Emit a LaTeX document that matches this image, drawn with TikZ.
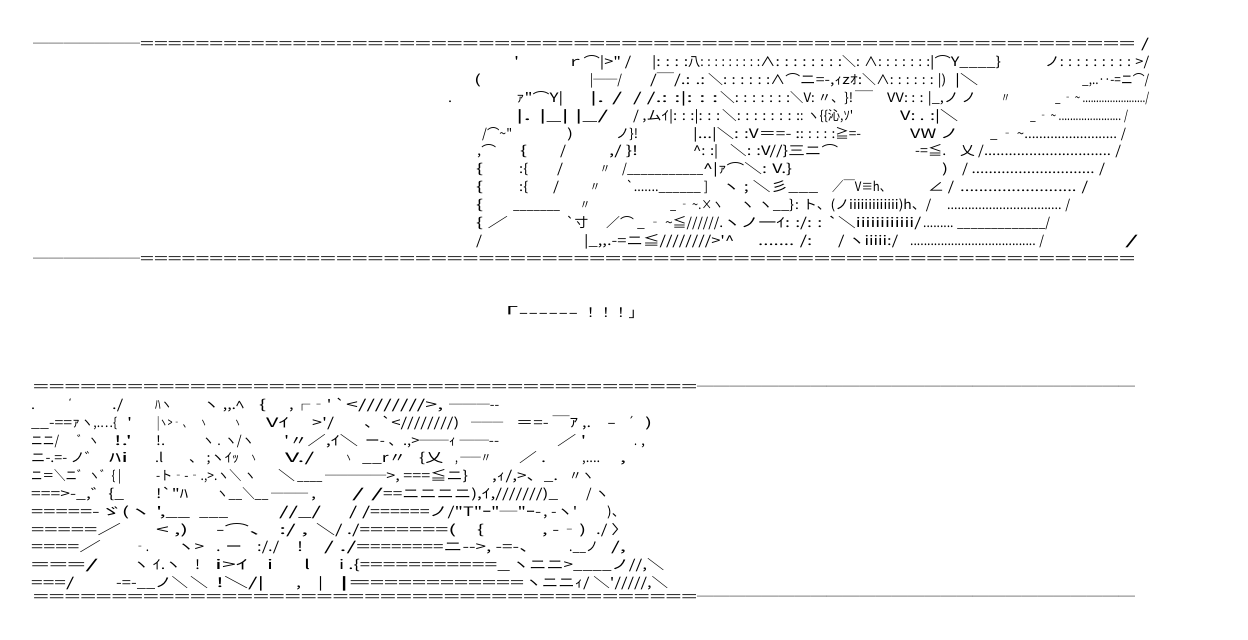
\documentclass[tikz,border=0pt]{standalone}
\usepackage{fontspec}
\usepackage{graphicx}
\usepackage{tikz}
\newfontfamily\aafont{Noto Sans CJK JP}
\tikzstyle{aa} = [anchor=base west, inner sep=0pt, yshift=-4.5pt, font=\aafont\fontsize{13}{15}\selectfont]
% one piece of a text row, stretched from x0 to x1
\newcommand{\aaseg}[5]{\node[aa] (#1) at (#2,#4) {\resizebox{\dimexpr #3pt-#2pt\relax}{\height}{\strut #5}};}

\begin{document}
\begin{tikzpicture}[x=1pt, y=-1pt]
\fill[white] (0,0) rectangle (1248,640);

% Top frame
\aaseg{tfa}{33}{140}{44}{───────}
\aaseg{tfb}{140}{320}{44}{=============}
\aaseg{tfc}{320}{605}{44}{==================}
\aaseg{tfd}{605}{1135}{44}{=================================}
\aaseg{tfe}{1141}{1149}{44}{/}

% Top picture rows
\aaseg{ta1}{514}{519}{62}{'}
\aaseg{ta2}{567}{631}{62}{ｒ⌒|>" /}
\aaseg{ta3}{652}{688}{62}{|: : : :}
\aaseg{ta4}{688}{760}{62}{八: : : : : : : : :}
\aaseg{ta5}{760}{842}{62}{∧: : : : : : : :}
\aaseg{ta6}{842}{930}{62}{＼: ∧: : : : : : :}
\aaseg{ta7}{930}{1001}{62}{|⌒Y\_\_\_\_\}}
\aaseg{ta8}{1045}{1149}{62}{ノ: : : : : : : : : >/}

\aaseg{tb1}{474}{481}{80}{(}
\aaseg{tb2}{590}{622}{80}{|──/}
\aaseg{tb3}{650}{705}{80}{/￣/.: .:}
\aaseg{tb4}{708}{800}{80}{＼: : : : : :∧⌒}
\aaseg{tb5}{800}{862}{80}{ニ=-,ｨzｵ:}
\aaseg{tb6}{862}{946}{80}{＼∧: : : : : : |)}
\aaseg{tb7}{955}{978}{80}{|＼}
\aaseg{tb8}{1082}{1149}{80}{\_,..‥-=ニ⌒/}

\aaseg{tc1}{448}{452}{98}{.}
\aaseg{tc2}{516}{563}{98}{ｧ"⌒Y|}
\aaseg{tc3}{590}{622}{98}{|.   /}
\aaseg{tc4}{633}{718}{98}{/  /.: :|: : :}
\aaseg{tc5}{720}{790}{98}{＼: : : : : : :}
\aaseg{tc6}{790}{853}{98}{＼V: 〃、\}!}
\aaseg{tc7}{855}{873}{98}{￣}
\aaseg{tc8}{887}{976}{98}{VV: : : |\_,ノ ノ}
\aaseg{tc9}{1001}{1010}{98}{〃}
\aaseg{tc10}{1055}{1149}{98}{\_ ‐ \textasciitilde{} ......................./}

\aaseg{td1}{516}{608}{116}{|.      |\_|      |\_/}
\aaseg{td2}{633}{720}{116}{/  ,ムｲ|: : :|: : :}
\aaseg{td3}{722}{800}{116}{＼: : : : : : : :}
\aaseg{td4}{800}{853}{116}{: ヽ\{\{沁,ｿ'}
\aaseg{td5}{900}{958}{116}{V: . :|＼}
\aaseg{td6}{1030}{1128}{116}{\_ ‐ \textasciitilde{} ...................... /}

\aaseg{te1}{482}{512}{134}{/⌒\textasciitilde{}"}
\aaseg{te2}{567}{573}{134}{)}
\aaseg{te3}{616}{638}{134}{ノ\}!}
\aaseg{te4}{693}{800}{134}{|...|＼: :V＝=- :}
\aaseg{te5}{800}{861}{134}{: : : : :≧=-}
\aaseg{te6}{910}{958}{134}{VW   ノ}
\aaseg{te7}{990}{1126}{134}{\_ ‐ \textasciitilde{}......................... /}

\aaseg{tf1}{477}{496}{151}{,⌒}
\aaseg{tf2}{520}{527}{151}{\{}
\aaseg{tf3}{560}{566}{151}{/}
\aaseg{tf4}{609}{638}{151}{,/   \}!}
\aaseg{tf5}{693}{718}{151}{\textasciicircum: :|}
\aaseg{tf6}{730}{838}{151}{＼: :V//\}三ニ⌒}
\aaseg{tf7}{915}{946}{151}{-=≦.}
\aaseg{tf8}{960}{1121}{151}{乂 /............................... /}

\aaseg{tg1}{476}{483}{169}{\{}
\aaseg{tg2}{519}{528}{169}{:\{}
\aaseg{tg3}{557}{563}{169}{/}
\aaseg{tg4}{600}{610}{169}{〃}
\aaseg{tg5}{622}{703}{169}{/\_\_\_\_\_\_\_\_\_\_\_}
\aaseg{tg6}{703}{792}{169}{\textasciicircum|ｧ⌒＼: V.\}}
\aaseg{tg7}{942}{948}{169}{)}
\aaseg{tg8}{962}{1105}{169}{/ ............................. /}

\aaseg{th1}{476}{483}{187}{\{}
\aaseg{th2}{519}{528}{187}{:\{}
\aaseg{th3}{553}{559}{187}{/}
\aaseg{th4}{590}{600}{187}{〃}
\aaseg{th5}{626}{708}{187}{`.......\_\_\_\_\_\_ ]}
\aaseg{th6}{722}{818}{187}{ヽ    ;   ＼彡\_\_\_}
\aaseg{th7}{832}{891}{187}{／￣V≡h、}
\aaseg{th8}{928}{954}{187}{∠ /}
\aaseg{th9}{960}{1088}{187}{......................... /}

\aaseg{ti1}{476}{483}{205}{\{}
\aaseg{ti2}{513}{560}{205}{\_\_\_\_\_\_\_}
\aaseg{ti3}{580}{590}{205}{〃}
\aaseg{ti4}{670}{723}{205}{\_ ‐ \textasciitilde{}.×ヽ}
\aaseg{ti5}{740}{794}{205}{ヽ    ヽ\_\_\}}
\aaseg{ti6}{795}{931}{205}{: ト、(ノiiiiiiiiiiiii)h、/}
\aaseg{ti7}{947}{1070}{205}{................................. /}

\aaseg{tj1}{476}{508}{223}{\{ ／}
\aaseg{tj2}{566}{588}{223}{`寸}
\aaseg{tj3}{606}{723}{223}{／⌒ \_ ‐ \textasciitilde{}≦//////.}
\aaseg{tj4}{723}{800}{223}{ヽノ一ｲ: :}
\aaseg{tj5}{800}{921}{223}{/: : `＼iiiiiiiiiiii/}
\aaseg{tj6}{923}{1050}{223}{......... \_\_\_\_\_\_\_\_\_\_\_\_\_/}

\aaseg{tk1}{476}{482}{241}{/}
\aaseg{tk2}{584}{734}{241}{|\_,,.-=ニ≦////////>'\textasciicircum}
\aaseg{tk3}{758}{812}{241}{....... /:}
\aaseg{tk4}{838}{898}{241}{/ ヽiiiii:/}
\aaseg{tk5}{910}{1044}{241}{..................................... /}
\aaseg{tk6}{1125}{1138}{241}{/}

% Top frame, lower edge
\aaseg{tga}{33}{140}{259}{───────}
\aaseg{tgb}{140}{320}{259}{=============}
\aaseg{tgc}{320}{605}{259}{==================}
\aaseg{tgd}{605}{1135}{259}{=================================}

% Shout
\aaseg{shouta}{504}{578}{313}{｢------}
\aaseg{shoutb}{583}{636}{313}{！！！｣}

% Bottom frame
\aaseg{bfa}{33}{237}{387}{=============}
\aaseg{bfb}{237}{523}{387}{==================}
\aaseg{bfc}{523}{697}{387}{===========}
\aaseg{bfd}{697}{1135}{387}{───────────────────────────}

% Bottom picture rows
\aaseg{ba1}{31}{35}{405}{.}
\aaseg{ba2}{69}{76}{405}{゛}
\aaseg{ba3}{112}{123}{405}{./}
\aaseg{ba4}{155}{172}{405}{ﾊヽ}
\aaseg{ba5}{203}{244}{405}{ヽ ,,.ﾍ}
\aaseg{ba6}{259}{266}{405}{\{}
\aaseg{ba7}{289}{345}{405}{,┌‐' `}
\aaseg{ba8}{346}{443}{405}{<////////>,}
\aaseg{ba9}{449}{499}{405}{───--}

\aaseg{bb1}{31}{80}{423}{\_\_-==ｧ}
\aaseg{bb2}{81}{117}{423}{ヽ,.…\{}
\aaseg{bb3}{127}{132}{423}{'}
\aaseg{bb4}{157}{191}{423}{|ヽ>‐ 、}
\aaseg{bb5}{200}{207}{423}{ヽ}
\aaseg{bb6}{234}{241}{423}{ヽ}
\aaseg{bb7}{266}{289}{423}{Vｲ}
\aaseg{bb8}{312}{334}{423}{>'/}
\aaseg{bb9}{364}{459}{423}{、`<////////)}
\aaseg{bb10}{471}{503}{423}{───}
\aaseg{bb11}{516}{578}{423}{＝=- ￣ｱ}
\aaseg{bb12}{582}{591}{423}{,.}
\aaseg{bb13}{607}{616}{423}{-}
\aaseg{bb14}{628}{634}{423}{´}
\aaseg{bb15}{645}{652}{423}{)}

\aaseg{bc1}{31}{59}{441}{ニニ/}
\aaseg{bc2}{77}{99}{441}{゛ヽ}
\aaseg{bc3}{114}{132}{441}{!.'}
\aaseg{bc4}{156}{165}{441}{!.}
\aaseg{bc5}{202}{254}{441}{ヽ . ヽ/ヽ}
\aaseg{bc6}{284}{358}{441}{'〃／,ｲ＼}
\aaseg{bc7}{365}{499}{441}{ー- 、.,>──ｨ ──--}
\aaseg{bc8}{557}{586}{441}{／  '}
\aaseg{bc9}{634}{637}{441}{.}
\aaseg{bc10}{641}{645}{441}{,}

\aaseg{bd1}{31}{99}{458}{ニ-.=- ノ゛}
\aaseg{bd2}{109}{128}{458}{ﾊi}
\aaseg{bd3}{155}{163}{458}{.l}
\aaseg{bd4}{189}{239}{458}{、 ;ヽｲｯ}
\aaseg{bd5}{250}{257}{458}{ヽ}
\aaseg{bd6}{285}{314}{458}{V./}
\aaseg{bd7}{345}{352}{458}{ヽ}
\aaseg{bd8}{362}{406}{458}{\_\_r〃}
\aaseg{bd9}{419}{443}{458}{\{乂}
\aaseg{bd10}{455}{491}{458}{, ──〃}
\aaseg{bd11}{519}{546}{458}{／ .}
\aaseg{bd12}{582}{600}{458}{,....}
\aaseg{bd13}{620}{626}{458}{,}

\aaseg{be1}{31}{121}{476}{ニ＝＼ニ゛ヽ゛\{ |}
\aaseg{be2}{156}{256}{476}{-ト‐-‐.,>.ヽ＼ ヽ}
\aaseg{be3}{278}{295}{476}{＼}
\aaseg{be4}{297}{370}{476}{\_\_\_\_ ────}
\aaseg{be5}{370}{468}{476}{─>, ===≦ニ\}}
\aaseg{be6}{492}{558}{476}{,ｨ/,>、\_.}
\aaseg{be7}{569}{594}{476}{〃ヽ}

\aaseg{bf1}{31}{124}{494}{===>-\_,゛\{\_}
\aaseg{bf2}{156}{188}{494}{!`"ﾊ}
\aaseg{bf3}{216}{308}{494}{ヽ\_\_＼\_\_ ───}
\aaseg{bf4}{311}{316}{494}{,}
\aaseg{bf5}{352}{383}{494}{/  /}
\aaseg{bf6}{383}{558}{494}{==ニニニニ),ｲ,///////)\_}
\aaseg{bf7}{586}{609}{494}{/  ヽ}

\aaseg{bg1}{31}{190}{512}{=====-ゞ(ヽ ',\_\_}
\aaseg{bg2}{199}{228}{512}{\_\_\_}
\aaseg{bg3}{279}{321}{512}{//\_/}
\aaseg{bg4}{349}{370}{512}{/ /}
\aaseg{bg5}{370}{541}{512}{======ノ/"T"ｰ"─"ｰ-}
\aaseg{bg6}{543}{577}{512}{, -ヽ'}
\aaseg{bg7}{607}{625}{512}{)、}

\aaseg{bh1}{31}{121}{530}{=====／}
\aaseg{bh2}{156}{188}{530}{< ,)}
\aaseg{bh3}{216}{308}{530}{-⌒、 :/  ,}
\aaseg{bh4}{316}{370}{530}{＼/  ./=}
\aaseg{bh5}{370}{456}{530}{======(}
\aaseg{bh6}{477}{484}{530}{\{}
\aaseg{bh7}{542}{586}{530}{,  -‐)}
\aaseg{bh8}{596}{628}{530}{./  〉}

\aaseg{bi1}{31}{101}{547}{====／}
\aaseg{bi2}{134}{149}{547}{‐.}
\aaseg{bi3}{177}{204}{547}{ヽ>}
\aaseg{bi4}{216}{242}{547}{. ー}
\aaseg{bi5}{257}{279}{547}{:/./}
\aaseg{bi6}{297}{303}{547}{!}
\aaseg{bi7}{324}{370}{547}{/  ./=}
\aaseg{bi8}{370}{538}{547}{=======ニ-->, -=-、}
\aaseg{bi9}{569}{598}{547}{.\_\_ノ}
\aaseg{bi10}{611}{626}{547}{/,}

\aaseg{bj1}{31}{98}{565}{===/}
\aaseg{bj2}{133}{181}{565}{ヽ ｲ.ヽ}
\aaseg{bj3}{195}{200}{565}{!}
\aaseg{bj4}{215}{248}{565}{i>ｲ}
\aaseg{bj5}{267}{273}{565}{i}
\aaseg{bj6}{304}{310}{565}{l}
\aaseg{bj7}{339}{370}{565}{i .\{=}
\aaseg{bj8}{370}{510}{565}{==========\_}
\aaseg{bj9}{512}{664}{565}{ヽニニ>\_\_\_\_ノ//,＼}

\aaseg{bk1}{31}{74}{583}{===/}
\aaseg{bk2}{116}{188}{583}{-=-\_\_ノ＼}
\aaseg{bk3}{190}{208}{583}{＼}
\aaseg{bk4}{216}{264}{583}{!＼/|}
\aaseg{bk5}{296}{301}{583}{,}
\aaseg{bk6}{318}{323}{583}{|}
\aaseg{bk7}{339}{370}{583}{|=}
\aaseg{bk8}{370}{524}{583}{===========}
\aaseg{bk9}{525}{668}{583}{ヽニニｨ/ ＼'/////,＼}

% Bottom frame, lower edge
\aaseg{bga}{33}{237}{597}{=============}
\aaseg{bgb}{237}{523}{597}{==================}
\aaseg{bgc}{523}{697}{597}{===========}
\aaseg{bgd}{697}{1135}{597}{───────────────────────────}
\end{tikzpicture}
\end{document}
